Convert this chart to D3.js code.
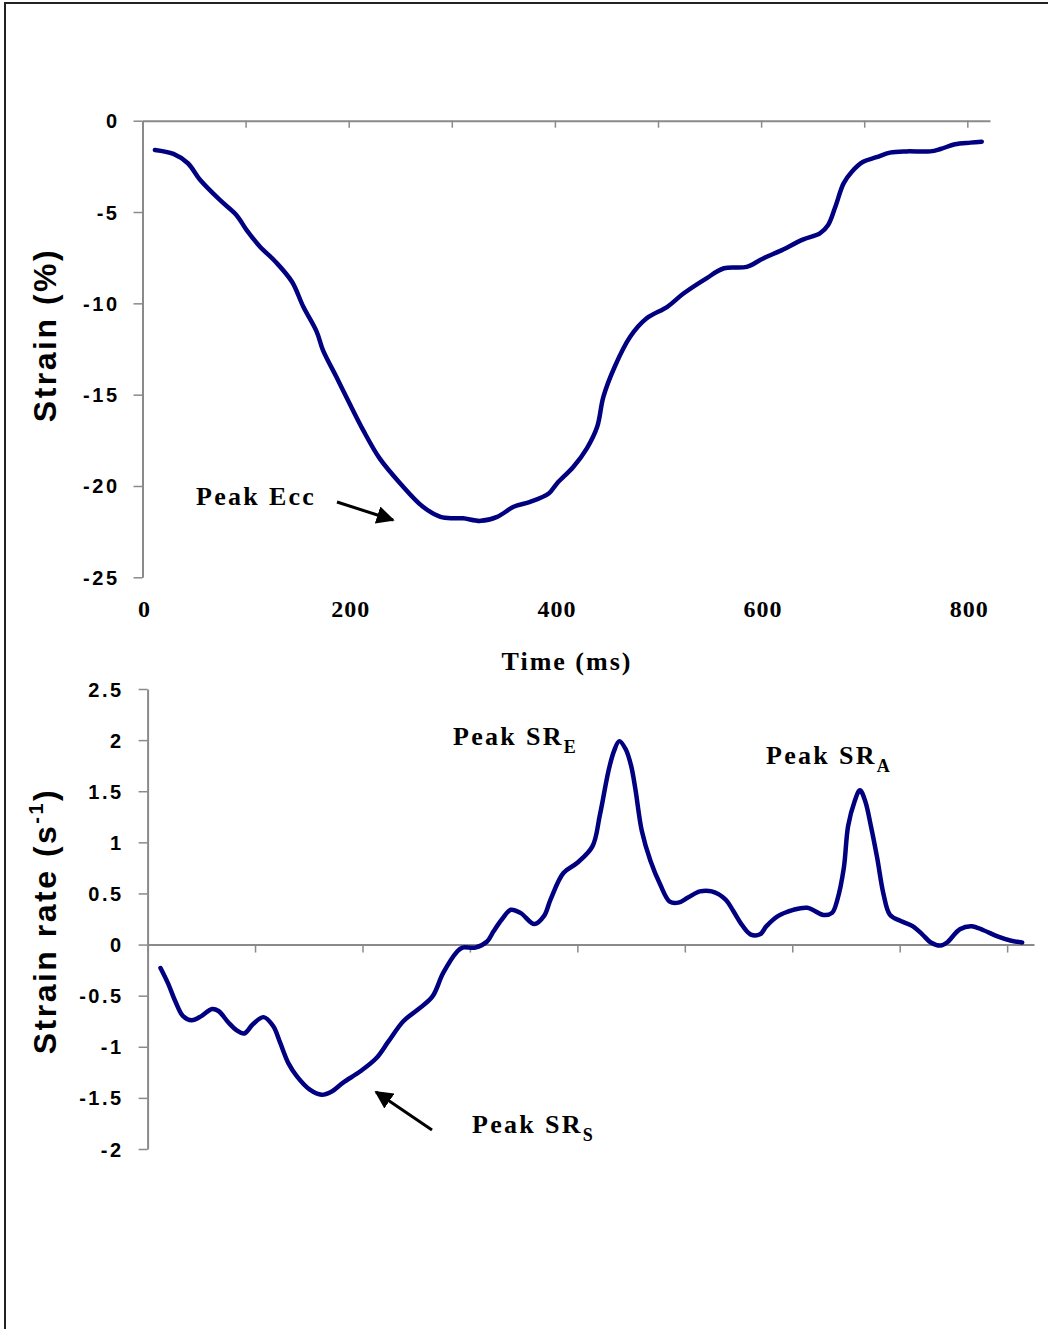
<!DOCTYPE html>
<html>
<head>
<meta charset="utf-8">
<script src="https://cdn.jsdelivr.net/npm/d3@7"></script>
<style>
  html, body { margin: 0; padding: 0; background: #fff; }
  svg { display: block; }
  .tick-lab { font-family: "Liberation Sans", Arial, sans-serif; font-weight: bold; font-size: 20px; letter-spacing: 2.5px; fill: #000; }
  .serif { font-family: "Liberation Serif", "Times New Roman", serif; font-weight: bold; fill: #000; }
  .ytitle { font-family: "Liberation Sans", Arial, sans-serif; font-weight: bold; font-size: 32px; letter-spacing: 2.5px; fill: #000; }
</style>
</head>
<body>
<svg id="chart" width="1048" height="1329"></svg>
<script>
// Myocardial strain curve: time (ms) and strain (%)
const strainTime = [12, 30, 44, 56, 75, 91, 101, 114, 129, 145, 156, 169, 175, 188, 200, 214, 230, 250, 272, 289,
  302, 311, 328, 344, 360, 376, 394, 402, 418, 431, 441, 447, 458, 473, 489, 509, 525, 547, 564, 586,
  602, 618, 641, 657, 665, 672, 680, 688, 699, 712, 725, 741, 764, 774, 788, 803, 814];
const strainValue = [-1.60, -1.82, -2.33, -3.25, -4.34, -5.16, -5.99, -6.90, -7.72, -8.82, -10.19, -11.56, -12.56, -14.02, -15.39, -16.94, -18.49, -19.86, -21.14, -21.69,
  -21.77, -21.77, -21.91, -21.69, -21.14, -20.87, -20.41, -19.86, -18.95, -17.94, -16.76, -15.12, -13.47, -11.83, -10.82, -10.19, -9.45, -8.63, -8.08, -8.00,
  -7.54, -7.14, -6.50, -6.17, -5.71, -4.71, -3.43, -2.79, -2.25, -2.00, -1.75, -1.68, -1.68, -1.55, -1.29, -1.20, -1.15];

// Strain rate curve: time (ms) and strain rate (1/s)
const rateTime = [12, 19, 26, 33, 41, 50, 60, 66, 75, 83, 90, 98, 108, 117, 123, 131, 139, 151, 162, 171,
  182, 198, 213, 224, 238, 251, 265, 275, 288, 293, 305, 316, 322, 330, 338, 347, 360, 369, 375, 387,
  400, 414, 421, 429, 434, 439, 445, 450, 454, 460, 468, 477, 486, 494, 503, 514, 525, 538, 545, 552,
  561, 570, 576, 587, 601, 614, 629, 637, 642, 648, 652, 658, 663, 668, 673, 679, 685, 691, 701, 712,
  721, 729, 738, 744, 756, 767, 778, 791, 803, 814];
const rateValue = [-0.23, -0.38, -0.56, -0.70, -0.74, -0.70, -0.63, -0.65, -0.76, -0.84, -0.87, -0.78, -0.71, -0.80, -0.95, -1.16, -1.29, -1.42, -1.47, -1.44,
  -1.35, -1.24, -1.11, -0.95, -0.75, -0.64, -0.51, -0.28, -0.07, -0.03, -0.03, 0.03, 0.13, 0.25, 0.34, 0.31, 0.20, 0.28, 0.44, 0.70,
  0.80, 0.96, 1.27, 1.70, 1.89, 1.99, 1.91, 1.75, 1.52, 1.11, 0.82, 0.59, 0.42, 0.41, 0.46, 0.52, 0.52, 0.44, 0.33, 0.21,
  0.10, 0.10, 0.18, 0.28, 0.34, 0.36, 0.29, 0.31, 0.44, 0.75, 1.16, 1.40, 1.51, 1.40, 1.17, 0.85, 0.49, 0.29, 0.23, 0.18,
  0.10, 0.02, -0.01, 0.02, 0.15, 0.18, 0.14, 0.08, 0.04, 0.02];

// Axis ticks and labels
const strainTicks = [-25, -20, -15, -10, -5, 0];
const rateTicks = [-2, -1.5, -1, -0.5, 0, 0.5, 1, 1.5, 2, 2.5];
const timeTicks = [0, 100, 200, 300, 400, 500, 600, 700, 800];
const timeLabels = [0, 200, 400, 600, 800];

const svg = d3.select("#chart");
const lineColor = "#000080";
const axisColor = "#8a8a8a";

// Page frame
svg.append("rect").attr("x", 5).attr("y", 3).attr("width", 1060).attr("height", 1340)
  .attr("fill", "none").attr("stroke", "#222").attr("stroke-width", 2);

// Arrow marker for annotations
svg.append("defs").append("marker")
  .attr("id", "arrow").attr("viewBox", "0 0 10 10").attr("refX", 9).attr("refY", 5)
  .attr("markerWidth", 6).attr("markerHeight", 6).attr("markerUnits", "strokeWidth")
  .attr("orient", "auto")
  .append("path").attr("d", "M0,0 L10,5 L0,10 z").attr("fill", "#000");

function styleAxis(g) {
  g.select(".domain").attr("stroke", axisColor).attr("stroke-width", 2);
  g.selectAll(".tick line").attr("stroke", axisColor).attr("stroke-width", 1.5);
}

// ---------- Strain panel ----------
const xS = d3.scaleLinear().domain([0, 822]).range([142.5, 990]);
const yS = d3.scaleLinear().domain([-25, 0]).range([577.3, 120.7]);

svg.append("g").attr("transform", `translate(${xS(0)},0)`)
  .call(d3.axisLeft(yS).tickValues(strainTicks).tickSize(9).tickSizeOuter(0).tickFormat(d => d))
  .call(styleAxis)
  .call(g => g.selectAll(".tick text").attr("class", "tick-lab").attr("x", -23).attr("dy", "0.35em")
    .attr("font-size", null).attr("font-family", null));

svg.append("g").attr("transform", `translate(0,${yS(0)})`)
  .call(d3.axisBottom(xS).tickValues(timeTicks).tickSize(7).tickSizeOuter(0).tickFormat(""))
  .call(styleAxis);

svg.append("g").selectAll("text").data(timeLabels).join("text")
  .attr("class", "serif").attr("font-size", 24).attr("letter-spacing", 1)
  .attr("x", d => xS(d) + 2).attr("y", 617).attr("text-anchor", "middle").text(d => d);

svg.append("text").attr("class", "serif").attr("font-size", 26).attr("letter-spacing", 2)
  .attr("x", 567).attr("y", 670).attr("text-anchor", "middle").text("Time (ms)");

svg.append("text").attr("class", "ytitle")
  .attr("transform", "translate(56,335) rotate(-90)").attr("text-anchor", "middle").text("Strain (%)");

svg.append("path")
  .datum(d3.zip(strainTime, strainValue))
  .attr("fill", "none").attr("stroke", lineColor).attr("stroke-width", 4.5)
  .attr("stroke-linejoin", "round").attr("stroke-linecap", "round")
  .attr("d", d3.line().x(d => xS(d[0])).y(d => yS(d[1])).curve(d3.curveCatmullRom.alpha(0.5)));

svg.append("text").attr("class", "serif").attr("font-size", 26).attr("letter-spacing", 2.3)
  .attr("x", 196).attr("y", 505).text("Peak Ecc");
svg.append("line").attr("x1", 337).attr("y1", 502).attr("x2", 393).attr("y2", 520)
  .attr("stroke", "#000").attr("stroke-width", 3).attr("marker-end", "url(#arrow)");

// ---------- Strain-rate panel ----------
const xR = d3.scaleLinear().domain([0, 825]).range([147.6, 1034]);
const yR = d3.scaleLinear().domain([-2, 2.5]).range([1149, 689]);

svg.append("g").attr("transform", `translate(${xR(0)},0)`)
  .call(d3.axisLeft(yR).tickValues(rateTicks).tickSize(9).tickSizeOuter(0).tickFormat(d => d))
  .call(styleAxis)
  .call(g => g.selectAll(".tick text").attr("class", "tick-lab").attr("x", -24).attr("dy", "0.35em")
    .attr("font-size", null).attr("font-family", null));

svg.append("g").attr("transform", `translate(0,${yR(0)})`)
  .call(d3.axisBottom(xR).tickValues(timeTicks).tickSize(8).tickSizeOuter(0).tickFormat(""))
  .call(styleAxis);

const rt = svg.append("text").attr("class", "ytitle")
  .attr("transform", "translate(56,921) rotate(-90)").attr("text-anchor", "middle");
rt.append("tspan").text("Strain rate (s");
rt.append("tspan").attr("font-size", 20).attr("dy", -13).text("-1");
rt.append("tspan").attr("dy", 13).text(")");

svg.append("path")
  .datum(d3.zip(rateTime, rateValue))
  .attr("fill", "none").attr("stroke", lineColor).attr("stroke-width", 4.5)
  .attr("stroke-linejoin", "round").attr("stroke-linecap", "round")
  .attr("d", d3.line().x(d => xR(d[0])).y(d => yR(d[1])).curve(d3.curveCatmullRom.alpha(0.5)));

function peakLabel(x, y, sub) {
  const t = svg.append("text").attr("class", "serif").attr("font-size", 26).attr("letter-spacing", 2.3)
    .attr("x", x).attr("y", y);
  t.append("tspan").text("Peak SR");
  t.append("tspan").attr("font-size", 18).attr("dy", 8).attr("letter-spacing", 0).text(sub);
}
peakLabel(453, 745, "E");
peakLabel(766, 764, "A");
peakLabel(472, 1133, "S");

svg.append("line").attr("x1", 432).attr("y1", 1130).attr("x2", 376).attr("y2", 1092)
  .attr("stroke", "#000").attr("stroke-width", 3).attr("marker-end", "url(#arrow)");
</script>
</body>
</html>
